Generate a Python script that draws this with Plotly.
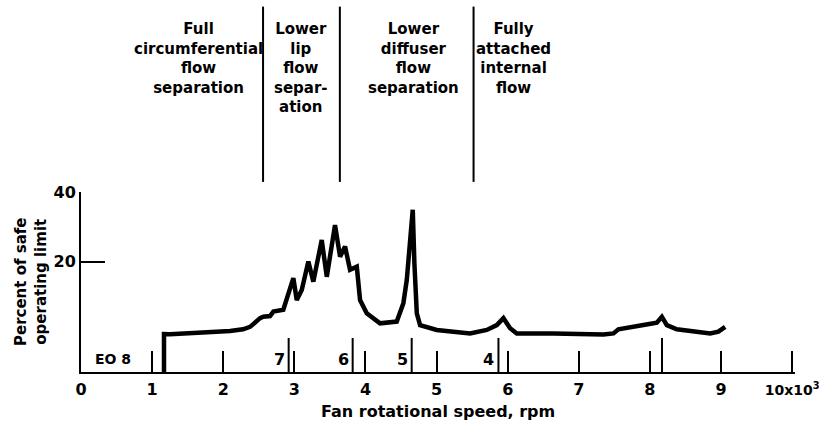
import plotly.graph_objects as go

# Fan rotational speed (thousands of rpm) and response, percent of safe operating limit
speed = [1.167, 1.167, 1.252, 1.674, 2.096, 2.278, 2.377, 2.518, 2.564, 2.658, 2.705,
         2.845, 2.916, 2.986, 3.034, 3.104, 3.197, 3.267, 3.385, 3.456, 3.572, 3.643,
         3.713, 3.783, 3.878, 3.924, 4.018, 4.159, 4.205, 4.440, 4.533, 4.581, 4.627,
         4.665, 4.688, 4.722, 4.768, 5.003, 5.471, 5.706, 5.847, 5.940, 6.034, 6.128,
         6.643, 7.346, 7.487, 7.557, 7.909, 8.097, 8.168, 8.238, 8.378, 8.612, 8.847,
         8.963, 9.058]
percent = [-11.8, -0.9, -0.95, -0.5, 0.0, 0.5, 1.2, 3.7, 4.1, 4.3, 5.6,
           6.1, 10.9, 15.2, 8.9, 11.8, 20.0, 14.2, 26.2, 15.6, 30.5, 21.4,
           24.3, 17.6, 18.5, 8.9, 5.1, 3.2, 2.2, 2.7, 8.0, 14.7, 26.2,
           34.9, 19.5, 5.1, 1.7, 0.3, -0.7, 0.3, 1.7, 3.7, 0.8, -0.7,
           -0.7, -1.0, -0.7, 0.5, 1.7, 2.4, 4.1, 1.7, 0.5, -0.2, -0.7,
           -0.2, 1.2]

# Engine-order crossing speeds and their labels
eo_speed = [2.92, 3.82, 4.65, 5.87, 8.17]
eo_label = ["7", "6", "5", "4", ""]

# Flow-regime boundaries and regime descriptions
regime_bounds = [2.56, 3.64, 5.52]
regime_centers = [1.65, 3.10, 4.67, 6.08]
regime_text = ["Full<br>circumferential<br>flow<br>separation",
               "Lower<br>lip<br>flow<br>separ-<br>ation",
               "Lower<br>diffuser<br>flow<br>separation",
               "Fully<br>attached<br>internal<br>flow"]

x_ticks = list(range(0, 11))
x_ticktext = [str(v) for v in range(0, 10)] + [
    "<span style='font-size:14px'>10x10<sup>3</sup></span>"]
y_ticks = [20, 40]

Y_BOTTOM = -11.8
EO_TOP = -2.0

FONT = "DejaVu Sans, sans-serif"


def bold(size):
    return dict(family=FONT, size=size, color="black", weight="bold")


fig = go.Figure()

# engine-order markers rising from the speed axis
eo_x, eo_y = [], []
for s in eo_speed:
    eo_x += [s, s, None]
    eo_y += [Y_BOTTOM, EO_TOP, None]
fig.add_trace(go.Scatter(x=eo_x, y=eo_y, mode="lines",
                         line=dict(color="black", width=2), hoverinfo="skip"))

# response curve
fig.add_trace(go.Scatter(x=speed, y=percent, mode="lines",
                         line=dict(color="black", width=4.5, shape="linear"),
                         hoverinfo="skip"))

annotations = []
for s, lab in zip(eo_speed, eo_label):
    if lab:
        annotations.append(dict(x=s, y=-8.2, xref="x", yref="y", text=lab,
                                showarrow=False, xanchor="right", xshift=-2,
                                font=bold(16)))
annotations.append(dict(x=0.17, y=-8.2, xref="x", yref="y", text="EO 8",
                        showarrow=False, xanchor="left", font=bold(14)))

for cx, txt in zip(regime_centers, regime_text):
    annotations.append(dict(x=cx, y=1.965, xref="x", yref="paper", text=txt,
                            showarrow=False, xanchor="center", yanchor="top", align="center",
                            font=bold(15)))

annotations.append(dict(x=0.5, y=-0.217, xref="paper", yref="paper",
                        text="Fan rotational speed, rpm", showarrow=False,
                        xanchor="center", yanchor="middle", font=bold(16)))
annotations.append(dict(x=-0.07, y=0.5, xref="paper", yref="paper",
                        text="Percent of safe<br>operating limit", showarrow=False,
                        textangle=-90, xanchor="center", yanchor="middle", font=bold(15)))

shapes = []
for b in regime_bounds:
    shapes.append(dict(type="line", xref="x", yref="paper", x0=b, x1=b,
                       y0=1.056, y1=2.03, line=dict(color="black", width=2)))

fig.update_layout(
    width=819, height=434,
    margin=dict(l=81, r=24, t=192, b=62),
    paper_bgcolor="white", plot_bgcolor="white",
    showlegend=False,
    annotations=annotations,
    shapes=shapes,
    xaxis=dict(range=[0, 10.04], tickvals=x_ticks, ticktext=x_ticktext,
               ticks="inside", ticklen=21, tickwidth=2, tickcolor="black",
               showline=True, linecolor="black", linewidth=2,
               showgrid=False, zeroline=False, automargin=False,
               tickfont=bold(16), ticklabeloverflow="allow",
               ticklabelstandoff=2),
    yaxis=dict(range=[Y_BOTTOM, 40], tickvals=y_ticks,
               ticks="inside", ticklen=24, tickwidth=2, tickcolor="black",
               showline=True, linecolor="black", linewidth=2,
               showgrid=False, zeroline=False, automargin=False,
               tickfont=bold(16)),
)

fig.write_html("out.html")
